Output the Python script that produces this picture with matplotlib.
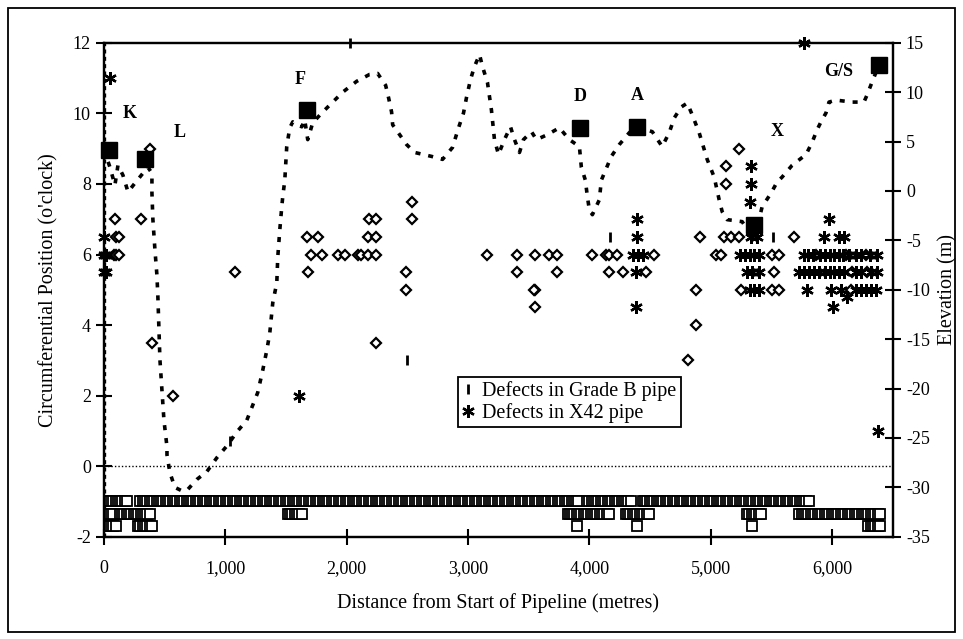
import numpy as np
import matplotlib
matplotlib.use("Agg")
import matplotlib.pyplot as plt
from matplotlib.ticker import FuncFormatter
from matplotlib.patches import Rectangle

plt.rcParams['font.family'] = ['Liberation Serif', 'DejaVu Serif']
plt.rcParams['axes.unicode_minus'] = False

# elevation profile along the pipeline (distance m, elevation m)
elev_x = [0, 49, 90, 115, 156, 198, 255, 321, 362, 395, 395, 403, 420, 436, 444, 452, 461,
          477, 494, 519, 519, 543, 584, 650, 691, 765, 848, 930, 1020, 1094, 1177, 1267,
          1309, 1342, 1366, 1391, 1424, 1432, 1449, 1465, 1473, 1490, 1506, 1531, 1556,
          1630, 1654, 1679, 1720, 1795, 1967, 2082, 2189, 2255, 2321, 2346, 2370, 2379,
          2436, 2494, 2560, 2700, 2790, 2872, 2922, 2963, 2988, 3021, 3053, 3095, 3119,
          3160, 3193, 3218, 3251, 3300, 3350, 3383, 3424, 3457, 3523, 3564, 3654, 3753,
          3835, 3918, 3934, 3967, 3984, 4000, 4025, 4082, 4099, 4181, 4247, 4329, 4395,
          4519, 4600, 4658, 4700, 4757, 4807, 4848, 4905, 4971, 5029, 5070, 5095, 5136,
          5259, 5358, 5424, 5498, 5547, 5588, 5671, 5786, 5835, 5877, 5909, 5950, 5975,
          6033, 6165, 6263, 6288, 6329, 6362, 6395]
elev_y = [4.2, 2.4, 0.6, 2.6, 1.6, -0.1, 0.8, 1.8, 2.4, 1.8, -0.2, -2.9, -6.0, -8.5, -10.7,
          -13.7, -17.1, -20.1, -23.2, -25.9, -26.7, -28.5, -30.0, -30.4, -30.2, -29.2,
          -28.4, -27.0, -25.7, -24.4, -23.2, -20.4, -18.1, -16.1, -14.4, -11.3, -9.3,
          -6.7, -3.9, -1.6, -0.6, 1.1, 4.5, 6.4, 7.0, 6.5, 7.2, 5.2, 6.9, 7.9, 10.0, 11.1,
          11.8, 11.9, 10.7, 9.4, 8.0, 6.7, 5.7, 4.7, 3.9, 3.5, 3.2, 4.4, 6.4, 7.9, 9.5,
          11.3, 12.6, 13.8, 12.6, 11.0, 8.2, 5.2, 3.7, 5.2, 6.5, 5.2, 3.9, 5.2, 6.0, 5.2,
          5.7, 6.4, 5.2, 4.5, 2.4, 1.1, -0.6, -1.9, -2.4, -0.9, 1.1, 3.5, 4.7, 5.9, 6.5,
          6.0, 4.5, 5.9, 7.4, 8.5, 8.9, 7.7, 5.9, 3.2, 1.4, -0.9, -2.1, -2.9, -3.1, -4.9,
          -1.6, -0.2, 0.9, 1.4, 2.6, 3.7, 4.9, 6.2, 7.0, 7.9, 9.0, 9.2, 9.0, 9.0, 9.7,
          11.0, 12.0, 12.8]

# named locations (distance m, elevation m)
site_names = ['K', 'L', 'F', 'D', 'A', 'X', 'G/S']
site_x = [40, 340, 1670, 3920, 4390, 5360, 6390]
site_elev = [4.1, 3.2, 8.2, 6.4, 6.5, -3.4, 12.8]
label_x = [214, 625, 1613, 3926, 4395, 5547, 6058]
label_y = [10.0, 9.45, 10.95, 10.47, 10.5, 9.5, 11.2]

# defects, circumferential position (o'clock)
gradeb_x = [2025, 2500, 4170, 5515, 1040]
gradeb_y = [12, 3.0, 6.5, 6.5, 0.7]

x42_x = [50, 0, 0, 20, 0, 20, 1610,
         4390, 4390, 4360, 4400, 4440, 4385, 4385,
         5335, 5335, 5325, 5330, 5380,
         5240, 5280, 5320, 5360, 5400,
         5300, 5340, 5400,
         5320, 5360, 5400,
         5770, 5975, 5935, 6060, 6100,
         5770, 5800, 5840, 5900, 5940, 5980, 6020, 6060, 6090, 6140, 6200, 6240, 6310, 6370,
         5730, 5770, 5810, 5850, 5890, 5940, 5980, 6020, 6060, 6100, 6200, 6240, 6320, 6370,
         5795, 5990, 6075, 6200, 6240, 6280, 6320, 6360,
         6125, 6010, 6380]
x42_y = [11, 6.5, 6, 6, 5.5, 5.5, 2,
         7, 6.5, 6, 6, 6, 5.5, 4.5,
         8.5, 8, 7.5, 6.5, 6.5,
         6, 6, 6, 6, 6,
         5.5, 5.5, 5.5,
         5, 5, 5,
         12, 7, 6.5, 6.5, 6.5,
         6, 6, 6, 6, 6, 6, 6, 6, 6, 6, 6, 6, 6, 6,
         5.5, 5.5, 5.5, 5.5, 5.5, 5.5, 5.5, 5.5, 5.5, 5.5, 5.5, 5.5, 5.5, 5.5,
         5, 5, 5, 5, 5, 5, 5, 5,
         4.8, 4.5, 1.0]

other_x = [90, 305, 380, 100, 120, 80, 100, 120, 395, 570, 1080,
           1670, 1760, 2175, 2240, 1710, 1800, 1925, 1990, 2090, 2115, 2175, 2240,
           1680, 2490, 2490, 2535, 2535, 2180, 2240, 2240,
           3160, 3405, 3555, 3670, 3735, 4025, 4140, 4165, 4230, 4535,
           3405, 3735, 4165, 4280, 4470, 3555, 3545, 3555,
           4910, 4880, 4880, 4810, 5235, 5125, 5125,
           5110, 5170, 5235, 5690,
           5045, 5085, 5505, 5565, 5870, 6115, 6280,
           5520, 6165, 6290, 5250, 5505, 5565, 6155]
other_y = [7, 7, 9, 6.5, 6.5, 6, 6, 6, 3.5, 2, 5.5,
           6.5, 6.5, 6.5, 6.5, 6, 6, 6, 6, 6, 6, 6, 6,
           5.5, 5.5, 5, 7.5, 7, 7, 7, 3.5,
           6, 6, 6, 6, 6, 6, 6, 6, 6, 6,
           5.5, 5.5, 5.5, 5.5, 5.5, 5, 5, 4.5,
           6.5, 5, 4, 3, 9, 8.5, 8,
           6.5, 6.5, 6.5, 6.5,
           6, 6, 6, 6, 6, 6, 6,
           5.5, 5.5, 5.5, 5, 5, 5, 5]

# pipe joint runs along the bottom (start m, end m) per row
joint_rows = [-1.0, -1.35, -1.7]
joint_runs = [
    [(0, 190), (300, 3920), (3980, 4350), (4440, 5810)],
    [(0, 90), (130, 395), (1515, 1640), (3820, 4180), (4300, 4490), (5300, 5420), (5730, 6410)],
    [(0, 100), (280, 395), (3900, 3900), (4390, 4390), (5340, 5340), (6300, 6410)],
]
joint_step = 19

fig = plt.figure(figsize=(9.63, 6.39), dpi=100)
ax = fig.add_axes([0.108, 0.160, 0.819, 0.773])
ax2 = ax.twinx()

ax.set_xlim(0, 6500)
ax.set_ylim(-2, 12)
ax2.set_ylim(-35, 15)

ax.axhline(0, color='black', lw=1, ls=(0, (1, 1.5)), zorder=1)
ax.axvline(0, color='black', lw=2.4, ls=(0, (1.2, 1)), zorder=1)

for row, runs in zip(joint_rows, joint_runs):
    for a, b in runs:
        xs = np.arange(a, b + 1, joint_step)
        ax.plot(xs, np.full(len(xs), row), ls='none', marker='s', ms=7,
                mfc='white', mec='black', mew=1.3, zorder=3)

ax.plot(other_x, other_y, ls='none', marker='D', ms=5.5, mfc='white',
        mec='black', mew=1.6, zorder=4)
ax.plot(gradeb_x, gradeb_y, ls='none', marker='|', ms=7, mew=2, color='black',
        label='Defects in Grade B pipe', zorder=5, clip_on=False)
ax.plot(x42_x, x42_y, ls='none', marker=(6, 2, 0), ms=9, mew=1.7, color='black',
        label='Defects in X42 pipe', zorder=5, clip_on=False)

ax2.plot(elev_x, elev_y, color='black', lw=2.6, ls=(0, (1.4, 2.2)), zorder=2)
ax2.plot(site_x, site_elev, ls='none', marker='s', ms=11.5, color='black', zorder=6,
         clip_on=False)

for name, lx, ly in zip(site_names, label_x, label_y):
    ax.text(lx, ly, name, fontsize=13, fontweight='bold', ha='center', va='center')

ax.set_xticks([0, 1000, 2000, 3000, 4000, 5000, 6000])
ax.xaxis.set_major_formatter(FuncFormatter(lambda v, p: f'{int(v):,}'))
ax.set_yticks(range(-2, 13, 2))
ax2.set_yticks(range(-35, 16, 5))

for a in (ax, ax2):
    a.tick_params(direction='inout', length=11, width=1.5, labelsize=13, colors='black')
    for s in a.spines.values():
        s.set_linewidth(1.6)
ax.tick_params(axis='x', pad=11)
ax.tick_params(axis='y', pad=4)
ax2.tick_params(axis='y', pad=4)

ax.set_xlabel('Distance from Start of Pipeline (metres)', fontsize=14.5, labelpad=12)
ax.set_ylabel("Circumferential Position (o'clock)", fontsize=14.5, labelpad=10)
ax2.set_ylabel('Elevation (m)', fontsize=14.5, labelpad=6)

leg = ax.legend(loc='upper left', bbox_to_anchor=(0.449, 0.324), fontsize=14.5,
                fancybox=False, framealpha=1, edgecolor='black', borderpad=0.2,
                handlelength=0.6, handletextpad=0.4, labelspacing=0.12, borderaxespad=0)
leg.get_frame().set_linewidth(1.3)

fig.patches.append(Rectangle((8 / 963, 7 / 639), 947 / 963, 624 / 639, transform=fig.transFigure,
                             fill=False, edgecolor='black', lw=1.3))

fig.savefig('out.png', dpi=100)
